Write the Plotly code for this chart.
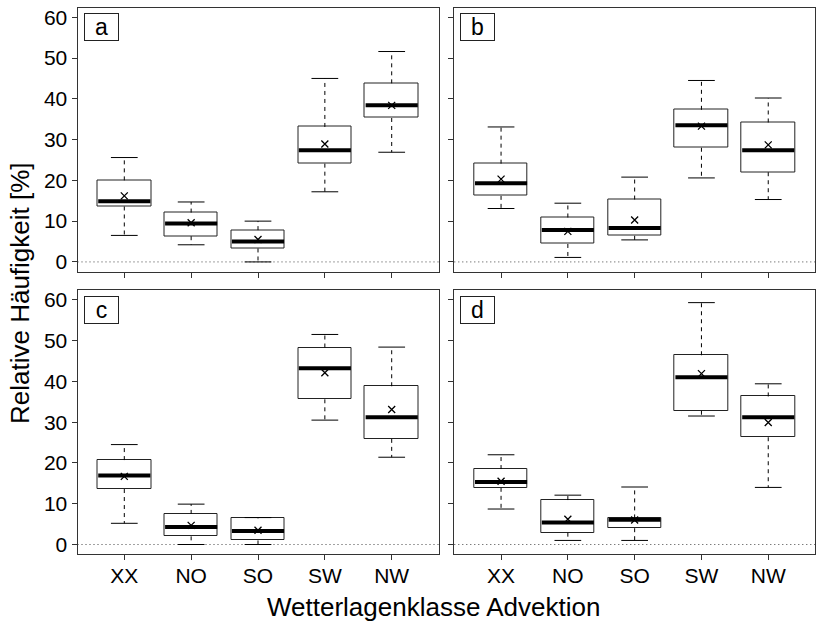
import plotly.graph_objects as go

categories = ["XX", "NO", "SO", "SW", "NW"]
y_ticks = [0, 10, 20, 30, 40, 50, 60]
panel_labels = ["a", "b", "c", "d"]

# Panel a
a_lower = [6.5, 4.2, 0.0, 17.2, 26.9]
a_q1 = [13.6, 6.3, 3.3, 24.1, 35.3]
a_median = [14.9, 9.4, 5.0, 27.4, 38.4]
a_q3 = [20.0, 12.1, 7.8, 33.1, 43.8]
a_upper = [25.6, 14.7, 10.0, 45.0, 51.6]
a_mean = [16.2, 9.6, 5.5, 28.9, 38.4]

# Panel b
b_lower = [13.1, 1.1, 5.4, 20.6, 15.3]
b_q1 = [16.2, 4.4, 6.4, 28.0, 22.0]
b_median = [19.3, 7.8, 8.3, 33.5, 27.4]
b_q3 = [24.1, 10.9, 15.3, 37.3, 34.2]
b_upper = [33.1, 14.4, 20.8, 44.5, 40.2]
b_mean = [20.3, 7.5, 10.3, 33.3, 28.7]

# Panel c
c_lower = [5.2, 0.0, 0.0, 30.5, 21.4]
c_q1 = [13.6, 2.0, 1.0, 35.6, 25.9]
c_median = [16.9, 4.3, 3.3, 43.2, 31.2]
c_q3 = [20.7, 7.5, 6.4, 48.3, 38.8]
c_upper = [24.5, 9.9, 6.6, 51.5, 48.4]
c_mean = [16.7, 4.7, 3.5, 42.1, 33.1]

# Panel d
d_lower = [8.7, 1.0, 1.0, 31.5, 14.0]
d_q1 = [13.9, 2.9, 4.0, 32.8, 26.3]
d_median = [15.3, 5.4, 6.1, 41.0, 31.2]
d_q3 = [18.5, 10.9, 6.4, 46.4, 36.3]
d_upper = [22.0, 12.1, 14.1, 59.3, 39.4]
d_mean = [15.5, 6.2, 6.0, 41.9, 29.9]

panels = [
    (a_lower, a_q1, a_median, a_q3, a_upper, a_mean),
    (b_lower, b_q1, b_median, b_q3, b_upper, b_mean),
    (c_lower, c_q1, c_median, c_q3, c_upper, c_mean),
    (d_lower, d_q1, d_median, d_q3, d_upper, d_mean),
]

W, H = 816, 625
FONT = "Liberation Sans, Arial, Helvetica, sans-serif"
LINE = "#333333"

xdom_px = [(77.5, 438.5), (454.3, 815.0)]
ydom_px = [(7.5, 271.7), (290.0, 554.3)]


def px(p):
    return max(0.0, min(1.0, p / W))


def py(p):
    return max(0.0, min(1.0, 1 - p / H))


fig = go.Figure()
box_w = 0.8
cap_w = 0.4
xpos = list(range(1, len(categories) + 1))

for k, (lo, q1, med, q3, up, mn) in enumerate(panels):
    sfx = "" if k == 0 else str(k + 1)
    xa, ya = "x" + sfx, "y" + sfx

    # whiskers (dashed)
    wx, wy = [], []
    for i, x in enumerate(xpos):
        wx += [x, x, None, x, x, None]
        wy += [q3[i], up[i], None, q1[i], lo[i], None]
    fig.add_trace(go.Scatter(x=wx, y=wy, mode="lines", xaxis=xa, yaxis=ya,
                             line=dict(color="black", width=1, dash="4px,4px"),
                             hoverinfo="skip", showlegend=False))
    # caps
    cx, cy = [], []
    for i, x in enumerate(xpos):
        cx += [x - cap_w / 2, x + cap_w / 2, None, x - cap_w / 2, x + cap_w / 2, None]
        cy += [up[i], up[i], None, lo[i], lo[i], None]
    fig.add_trace(go.Scatter(x=cx, y=cy, mode="lines", xaxis=xa, yaxis=ya,
                             line=dict(color="black", width=1),
                             hoverinfo="skip", showlegend=False))
    # boxes
    fig.add_trace(go.Bar(x=xpos, y=[q3[i] - q1[i] for i in range(len(xpos))], base=q1,
                         width=box_w, xaxis=xa, yaxis=ya,
                         marker=dict(color="white", line=dict(color="#222222", width=1)),
                         hoverinfo="skip", showlegend=False))
    # medians
    mx, my = [], []
    for i, x in enumerate(xpos):
        mx += [x - box_w / 2 + 0.01, x + box_w / 2 - 0.01, None]
        my += [med[i], med[i], None]
    fig.add_trace(go.Scatter(x=mx, y=my, mode="lines", xaxis=xa, yaxis=ya,
                             line=dict(color="black", width=4),
                             hoverinfo="skip", showlegend=False))
    # means
    fig.add_trace(go.Scatter(x=xpos, y=mn, mode="markers", xaxis=xa, yaxis=ya,
                             marker=dict(symbol="x-thin", size=7,
                                         line=dict(color="black", width=1.3)),
                             hoverinfo="skip", showlegend=False))

    col, row = k % 2, k // 2
    axis_common = dict(showline=True, mirror=True, linecolor=LINE, linewidth=1,
                       ticks="outside", ticklen=5, tickcolor=LINE, tickwidth=1,
                       showgrid=False, zeroline=False, automargin=False,
                       ticklabeloverflow="allow",
                       tickfont=dict(family=FONT, size=21, color="black"))
    ytop, ybot = ydom_px[row]
    fig.update_layout(**{
        "xaxis" + sfx: dict(domain=(px(xdom_px[col][0]), px(xdom_px[col][1])),
                            anchor=ya, range=[0.3, 5.7],
                            tickvals=xpos, ticktext=categories,
                            ticklabelstandoff=-3,
                            showticklabels=(row == 1), **axis_common),
        "yaxis" + sfx: dict(domain=(py(ybot), py(ytop)),
                            anchor=xa, range=[-2.4, 62.4],
                            tickvals=y_ticks, showticklabels=(col == 0), **axis_common),
    })
    fig.add_shape(type="line", xref=xa + " domain", yref=ya, x0=0, x1=1, y0=0, y1=0,
                  line=dict(color="#444444", width=1, dash="1px,3px"), layer="below")
    fig.add_annotation(text=panel_labels[k], xref="paper", yref="paper",
                       x=px(xdom_px[col][0] + 6), y=py(ytop + 6),
                       xanchor="left", yanchor="top", showarrow=False,
                       font=dict(family=FONT, size=23, color="black"),
                       width=31, height=24, borderpad=1, borderwidth=1,
                       bordercolor="#222222", bgcolor="white")

fig.add_annotation(text="Wetterlagenklasse Advektion", xref="paper", yref="paper",
                   x=px(433), y=py(607), xanchor="center", yanchor="middle",
                   showarrow=False, font=dict(family=FONT, size=26, color="black"))
fig.add_annotation(text="Relative Häufigkeit [%]", xref="paper", yref="paper",
                   x=px(20), y=py(293), xanchor="center", yanchor="middle",
                   textangle=-90, showarrow=False,
                   font=dict(family=FONT, size=26, color="black"))

fig.update_layout(width=W, height=H, margin=dict(l=0, r=0, t=0, b=0),
                  paper_bgcolor="white", plot_bgcolor="white", bargap=0,
                  font=dict(family=FONT, color="black"))

# the page body has a default 8px margin; remove it so the figure fills the window
fig.write_html("out.html", config={"displayModeBar": False},
               post_script="document.body.style.margin='0px';"
                           "document.body.style.overflow='hidden';")
